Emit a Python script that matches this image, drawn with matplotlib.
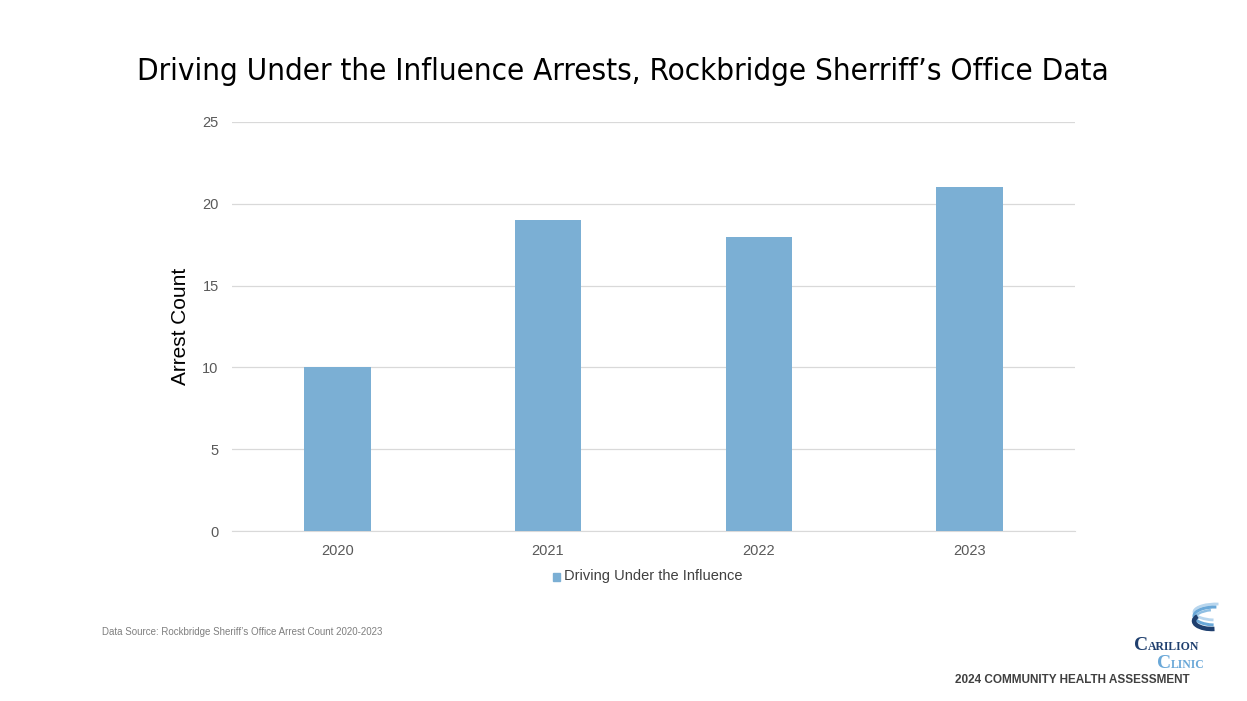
import matplotlib.pyplot as plt
from matplotlib.patches import Rectangle, Arc

years = ['2020', '2021', '2022', '2023']
arrests = [10, 19, 18, 21]
series_name = 'Driving Under the Influence'

plt.rcParams['font.family'] = ['Liberation Sans', 'DejaVu Sans']

W, H = 1247, 701


def px(x, y):
    # pixel position (from top-left) -> figure fraction
    return x / W, 1 - y / H


fig = plt.figure(figsize=(12.47, 7.01), dpi=100)
ax = fig.add_axes([0.186, 0.2425, 0.676, 0.5835])

bar_color = '#7BAFD4'
x = range(len(years))
ax.bar(x, arrests, width=0.315, color=bar_color, zorder=3)
ax.set_xlim(-0.5, 3.5)
ax.set_ylim(0, 25)
ax.set_yticks([0, 5, 10, 15, 20, 25])
ax.set_xticks(list(x))
ax.set_xticklabels(years)
ax.grid(axis='y', color='#d9d9d9', linewidth=0.9, zorder=0)
for s in ['top', 'right', 'left']:
    ax.spines[s].set_visible(False)
ax.spines['bottom'].set_color('#d9d9d9')
ax.tick_params(axis='both', length=0, colors='#595959', labelsize=10.5)
ax.tick_params(axis='y', pad=9.5)
ax.tick_params(axis='x', pad=9.5)
ax.set_ylabel('Arrest Count', fontsize=15, color='black', labelpad=9)

# legend
fig.patches.append(Rectangle(px(553, 581), 7 / W, 8 / H, transform=fig.transFigure,
                             color=bar_color))
fig.text(*px(564, 576), series_name, fontsize=10.5, color='#404040', va='center')

fig.text(*px(623, 71), "Driving Under the Influence Arrests, Rockbridge Sherriff\u2019s Office Data",
         ha='center', va='center', fontsize=22.5, family='DejaVu Sans', stretch='condensed')

fig.text(*px(102, 632), "Data Source: Rockbridge Sheriff\u2019s Office Arrest Count 2020-2023",
         fontsize=7, color='#7f7f7f', va='center')

# logo: small-caps words, big first letter then the rest right after it
dark, light = '#1f3f6e', '#6aa8d8'
serif = ['Liberation Serif']
renderer = fig.canvas.get_renderer()
for x0, y0, word, col in [(1134, 650, 'CARILION', dark), (1157, 668, 'CLINIC', light)]:
    big = fig.text(*px(x0, y0), word[0], fontsize=14, color=col, va='baseline',
                   family=serif, weight='bold')
    bb = big.get_window_extent(renderer)
    fig.text(bb.x1 / W, 1 - y0 / H, word[1:], fontsize=8.5, color=col, va='baseline',
             family=serif, weight='bold')
rings = [((1216, 612), 44, 16, '#b8d6ee', 80, 260, 2.0),
         ((1215, 616), 42, 18, light, 85, 265, 2.2),
         ((1214, 620), 40, 20, '#8fbfe3', 100, 260, 1.8),
         ((1212, 621), 36, 16, dark, 150, 280, 3.2)]
for (cx, cy), w, h, c, t1, t2, lw in rings:
    fig.patches.append(Arc(px(cx, cy), w / W, h / H, theta1=t1, theta2=t2,
                           transform=fig.transFigure, color=c, linewidth=lw))
fig.text(*px(1190, 680), '2024 COMMUNITY HEALTH ASSESSMENT', fontsize=8.5, color='#404040',
         ha='right', va='center', weight='bold')

fig.savefig('out.png', dpi=100)
